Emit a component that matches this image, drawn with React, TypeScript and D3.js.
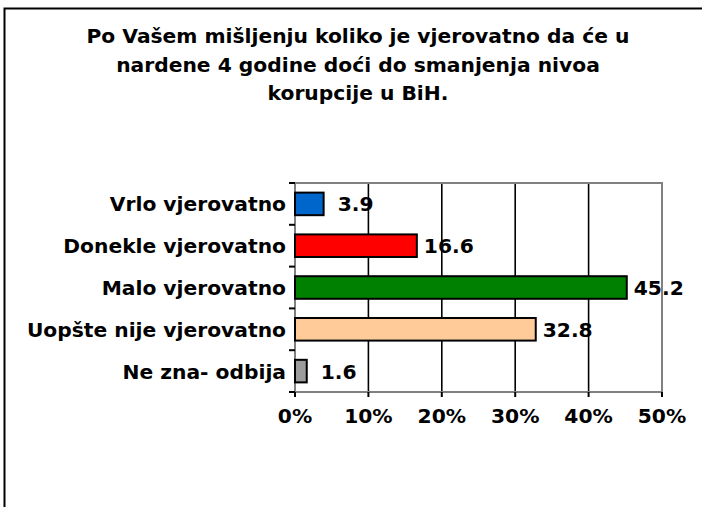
import React from "react";
import * as d3 from "d3";

const titleLines = [
  "Po Vašem mišljenju koliko je vjerovatno da će u",
  "nardene 4 godine doći do smanjenja nivoa",
  "korupcije u BiH.",
];

const categories = [
  "Vrlo vjerovatno",
  "Donekle vjerovatno",
  "Malo vjerovatno",
  "Uopšte nije vjerovatno",
  "Ne zna- odbija",
];
const values = [3.9, 16.6, 45.2, 32.8, 1.6];
const xTicks = [0, 10, 20, 30, 40, 50];

const barColors = ["#0066cc", "#ff0000", "#008000", "#ffcc99", "#9c9c9c"];

const W = 702;
const H = 507;
const plot = { left: 295, right: 662, top: 183, bottom: 392 };
const font = "'DejaVu Sans', Verdana, sans-serif";
const fs = 20.25;

export default function App() {
  const x = d3.scaleLinear().domain([0, 50]).range([plot.left, plot.right]);
  const y = d3
    .scaleBand<string>()
    .domain(categories)
    .range([plot.top, plot.bottom])
    .padding(0);
  const bh = y.bandwidth() * 0.54;
  const fmt = d3.format(" >4.1f");
  const pct = (d: number) => `${d}%`;

  // category boundaries for the y ticks
  const yBounds = categories.map((c) => y(c) as number).concat(plot.bottom);

  return (
    <svg
      width={W}
      height={H}
      style={{ position: "absolute", left: 0, top: 0, display: "block", background: "#fff" }}
      fontFamily={font}
      fontWeight="bold"
    >
      <rect x={4.5} y={8.5} width={740} height={540} fill="#fff" stroke="#000" strokeWidth={2} />

      {titleLines.map((t, i) => (
        <text key={i} x={358} y={43 + i * 28.5} textAnchor="middle" fontSize={fs} fill="#000">
          {t}
        </text>
      ))}

      {/* gridlines */}
      {xTicks.slice(1, -1).map((t) => (
        <line key={t} x1={x(t)} x2={x(t)} y1={plot.top} y2={plot.bottom} stroke="#000" strokeWidth={1.6} />
      ))}

      {/* plot border */}
      <rect
        x={plot.left}
        y={plot.top}
        width={plot.right - plot.left}
        height={plot.bottom - plot.top}
        fill="none"
        stroke="#808080"
        strokeWidth={2}
      />

      {/* ticks */}
      {yBounds.map((b, i) => (
        <line key={i} x1={plot.left - 6} x2={plot.left} y1={b} y2={b} stroke="#000" strokeWidth={2} />
      ))}
      {xTicks.map((t) => (
        <line key={t} x1={x(t)} x2={x(t)} y1={plot.bottom} y2={plot.bottom + 5} stroke="#000" strokeWidth={2} />
      ))}

      {/* bars */}
      {categories.map((c, i) => {
        const cy = (y(c) as number) + y.bandwidth() / 2;
        return (
          <g key={c}>
            <rect
              x={x(0)}
              y={cy - bh / 2}
              width={x(values[i]) - x(0)}
              height={bh}
              fill={barColors[i]}
              stroke="#000"
              strokeWidth={2}
            />
            <text
              x={x(values[i]) + 7}
              y={cy + 7.5}
              fontSize={fs}
              fill="#000"
              xmlSpace="preserve"
              style={{ whiteSpace: "pre" }}
            >
              {fmt(values[i])}
            </text>
            <text x={286} y={cy + 7.5} textAnchor="end" fontSize={fs} fill="#000">
              {c}
            </text>
          </g>
        );
      })}

      {xTicks.map((t) => (
        <text key={t} x={x(t)} y={423} textAnchor="middle" fontSize={fs} fill="#000">
          {pct(t)}
        </text>
      ))}
    </svg>
  );
}
